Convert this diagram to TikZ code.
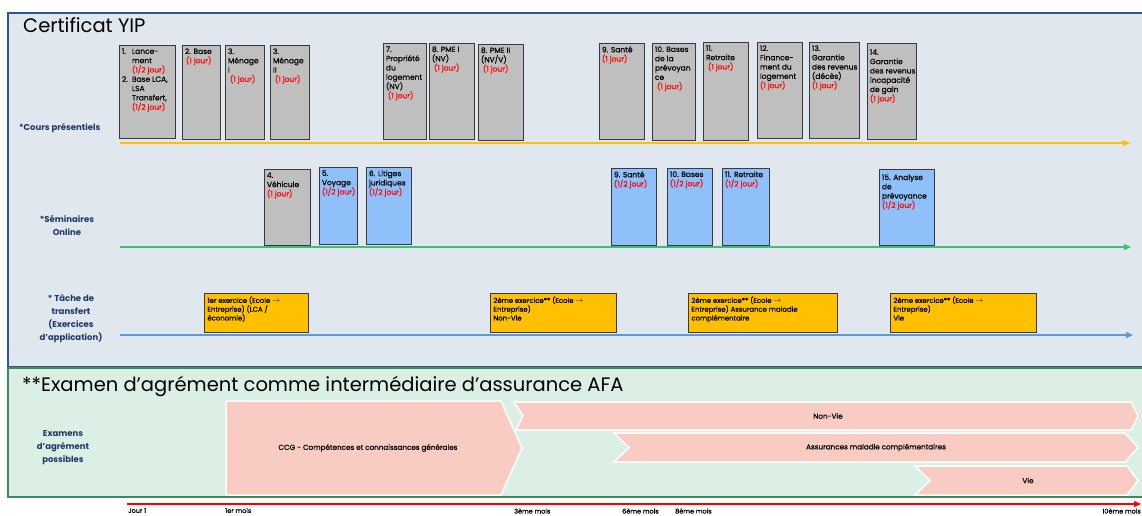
\documentclass[tikz,border=0pt]{standalone}
\usepackage{fontspec}
\setmainfont{Poppins}
\newfontfamily\medfont[FakeBold=0.5]{Poppins}
\usetikzlibrary{arrows.meta}
\definecolor{panelblue}{HTML}{E0E7EF}
\definecolor{borderblue}{HTML}{2F5597}
\definecolor{panelgreen}{HTML}{DCEFE4}
\definecolor{bordergreen}{HTML}{3F8A5E}
\definecolor{boxgrey}{HTML}{BFBFBF}
\definecolor{boxedge}{HTML}{3A3A3A}
\definecolor{boxblue}{HTML}{8FC0F9}
\definecolor{boxyellow}{HTML}{FFC000}
\definecolor{pinkfill}{HTML}{F8CBC3}
\definecolor{navytext}{HTML}{1F3864}
\definecolor{lineyellow}{HTML}{FFC000}
\definecolor{linegreen}{HTML}{3CBF70}
\definecolor{lineblue}{HTML}{5B9BD5}
\newcommand\redt[1]{\mbox{\textcolor{red}{#1}}}
\newcommand\cbox[7]{\node[#6, anchor=north west] (#1) at (#2,#3) {\parbox[t][\dimexpr#5pt-#3pt-6pt\relax][t]{\dimexpr#4pt-#2pt-5pt\relax}{\raggedright #7}};}
\tikzset{
  coursebox/.style={draw=boxedge, fill=boxgrey, line width=0.9pt, inner xsep=2.5pt, inner ysep=3pt, font=\medfont\fontsize{7.5}{9.3}\selectfont},
  onlinebox/.style={draw=boxedge, fill=boxblue, line width=0.9pt, inner xsep=2.5pt, inner ysep=3pt, font=\medfont\fontsize{7.5}{9.3}\selectfont},
  taskbox/.style={draw=boxedge, fill=boxyellow, line width=0.9pt, inner xsep=3pt, inner ysep=3pt, font=\medfont\fontsize{6.9}{8.8}\selectfont},
  rowlabel/.style={font=\bfseries\fontsize{8.5}{13}\selectfont, text=navytext, align=center, inner sep=0pt},
  bigtitle/.style={font=\fontsize{19.5}{22}\selectfont, inner sep=0pt, anchor=base west},
  timeline/.style={line width=1.2pt, -{Triangle[length=7pt,width=6pt]}},
  pinkshape/.style={fill=pinkfill, draw=white, line width=1.5pt},
  pinktext/.style={font=\medfont\fontsize{7.2}{8}\selectfont, inner sep=0pt},
  axislabel/.style={font=\medfont\fontsize{6.5}{7}\selectfont, inner sep=0pt, anchor=west}
}
\begin{document}
\begin{tikzpicture}[x=1pt,y=-1pt]
\useasboundingbox (0,0) rectangle (1142,516);
\fill[white] (0,0) rectangle (1142,516);
% panels
\draw[borderblue, fill=panelblue, line width=2pt] (8,13) rectangle (1146,367);
\draw[bordergreen, fill=panelgreen, line width=2pt] (8,368) rectangle (1146,497);
\node[bigtitle] (t1) at (23,33) {Certificat YIP};
\node[bigtitle] (t2) at (22,391) {**Examen d’agrément comme intermédiaire d'assurance AFA};
% row labels
\node[rowlabel, anchor=west] (lcours) at (19,128) {*Cours présentiels};
\node[rowlabel] (lsem) at (67,225) {*Séminaires\\Online};
\node[rowlabel] (ltask) at (71,319) {* Tâche de\\transfert\\(Exercices\\d’application)};
\node[rowlabel] (lexam) at (63,448) {Examens\\d’agrément\\possibles};
% row lines
\coordinate (ys) at (120,143); \coordinate (ye) at (1130,143);
\coordinate (gs) at (120,247); \coordinate (ge) at (1131,247);
\coordinate (bs) at (120,335); \coordinate (be) at (1133,335);
\coordinate (rs) at (127,504); \coordinate (re) at (1141,504);
\draw[timeline, lineyellow] (ys) -- (ye);
\draw[timeline, linegreen] (gs) -- (ge);
\draw[timeline, lineblue] (bs) -- (be);
\draw[timeline, red] (rs) -- (re);
% cours presentiels
\cbox{c1}{119}{45}{175}{138}{coursebox}{\makebox[10pt][l]{1.}Lance-\\\hspace*{10pt}ment\\\hspace*{10pt}\redt{(1/2 jour)}\\\makebox[10pt][l]{2.}Base LCA,\\\hspace*{10pt}LSA\\\hspace*{10pt}Transfert,\\\hspace*{10pt}\redt{(1/2 jour)}}
\cbox{c2}{182}{45}{220}{139}{coursebox}{2. Base\\\hspace*{1pt}\redt{(1 jour)}}
\cbox{c3}{225}{45}{264}{139}{coursebox}{3.\\Ménage\\I\\\hspace*{2pt}\redt{(1 jour)}}
\cbox{c4}{270}{45}{309}{139}{coursebox}{3.\\Ménage\\II\\\hspace*{2pt}\redt{(1 jour)}}
\cbox{c7}{383}{43}{426}{139}{coursebox}{7.\\Propriété\\du\\logement\\(NV)\\\hspace*{2pt}\redt{(1 jour)}}
\cbox{c8}{429}{43}{474}{139}{coursebox}{8. PME I\\(NV)\\\hspace*{2pt}\redt{(1 jour)}}
\cbox{c8b}{478}{44}{523}{140}{coursebox}{8. PME II\\(NV/V)\\\hspace*{2pt}\redt{(1 jour)}}
\cbox{c9}{599}{43}{644}{139}{coursebox}{9. Santé\\\redt{(1 jour)}}
\cbox{c10}{652}{43}{695}{140}{coursebox}{10. Bases\\de la\\prévoyan\\ce\\\hspace*{2pt}\redt{(1 jour)}}
\cbox{c11}{703}{42}{748}{140}{coursebox}{11.\\Retraite\\\hspace*{2pt}\redt{(1 jour)}}
\cbox{c12}{757}{42}{802}{138}{coursebox}{12.\\Finance-\\ment du\\logement\\\redt{(1 jour)}}
\cbox{c13}{809}{42}{859}{138}{coursebox}{13.\\Garantie\\\mbox{des revenus}\\(décès)\\\redt{(1 jour)}}
\cbox{c14}{867}{43}{916}{139}{coursebox}{\vspace*{3pt}14.\\Garantie\\\mbox{des revenus}\\\mbox{incapacité}\\de gain\\\redt{(1 jour)}}
% seminaires online
\cbox{s4}{264}{169}{310}{245}{coursebox}{4.\\Véhicule\\\redt{(1 jour)}}
\cbox{s5}{319}{167}{357}{244}{onlinebox}{5.\\Voyage\\\redt{(1/2 jour)}}
\cbox{s6}{366}{167}{411}{244}{onlinebox}{\mbox{6. Litiges}\\juridiques\\\redt{(1/2 jour)}}
\cbox{s9}{611}{168}{656}{245}{onlinebox}{9. Santé\\\redt{(1/2 jour)}}
\cbox{s10}{667}{168}{712}{245}{onlinebox}{\mbox{10. Bases}\\\redt{(1/2 jour)}}
\cbox{s11}{722}{168}{769}{245}{onlinebox}{\mbox{11. Retraite}\\\redt{(1/2 jour)}}
\cbox{s15}{879}{169}{934}{245}{onlinebox}{\vspace*{2pt}\mbox{15. Analyse}\\de\\prévoyance\\\redt{(1/2 jour)}}
% taches
\cbox{k1}{204}{293}{307}{332}{taskbox}{1er exercice (Ecole $\rightarrow$\\Entreprise) (LCA /\\économie)}
\cbox{k2}{490}{293}{615}{332}{taskbox}{2ème exercice** (Ecole $\rightarrow$\\Entreprise)\\Non-Vie}
\cbox{k3}{688}{293}{836}{332}{taskbox}{2ème exercice** (Ecole $\rightarrow$\\Entreprise) Assurance maladie\\complémentaire}
\cbox{k4}{890}{293}{1035}{332}{taskbox}{2ème exercice** (Ecole $\rightarrow$\\Entreprise)\\Vie}
% examens
\draw[pinkshape] (514,402) -- (1131,402) -- (1138,416) -- (1131,430) -- (516,430) -- (523,416) -- cycle;
\draw[pinkshape] (614,433) -- (1125,433) -- (1138,447.5) -- (1125,462) -- (614,462) -- (629,447.5) -- cycle;
\draw[pinkshape] (915,466) -- (1127,466) -- (1138,480.5) -- (1127,495) -- (915,495) -- (930,480.5) -- cycle;
\draw[pinkshape] (226,401) -- (501,401) -- (522,448) -- (501,495) -- (226,495) -- cycle;
\node[pinktext] (eccg) at (368,448) {CCG - Compétences et connaissances générales};
\node[pinktext] (env) at (828,416) {Non-Vie};
\node[pinktext] (eamc) at (876,447.5) {Assurances maladie complémentaires};
\node[pinktext] (evie) at (1028,480.5) {Vie};
% axis labels
\node[axislabel] (a0) at (128,510.5) {Jour 1};
\node[axislabel] (a1) at (225,510.5) {1er mois};
\node[axislabel] (a3) at (514,511) {3ème mois};
\node[axislabel] (a6) at (622,511) {6ème mois};
\node[axislabel] (a8) at (675,511) {8ème mois};
\node[axislabel, anchor=east] (a10) at (1141,511) {10ème mois};
\end{tikzpicture}
\end{document}
